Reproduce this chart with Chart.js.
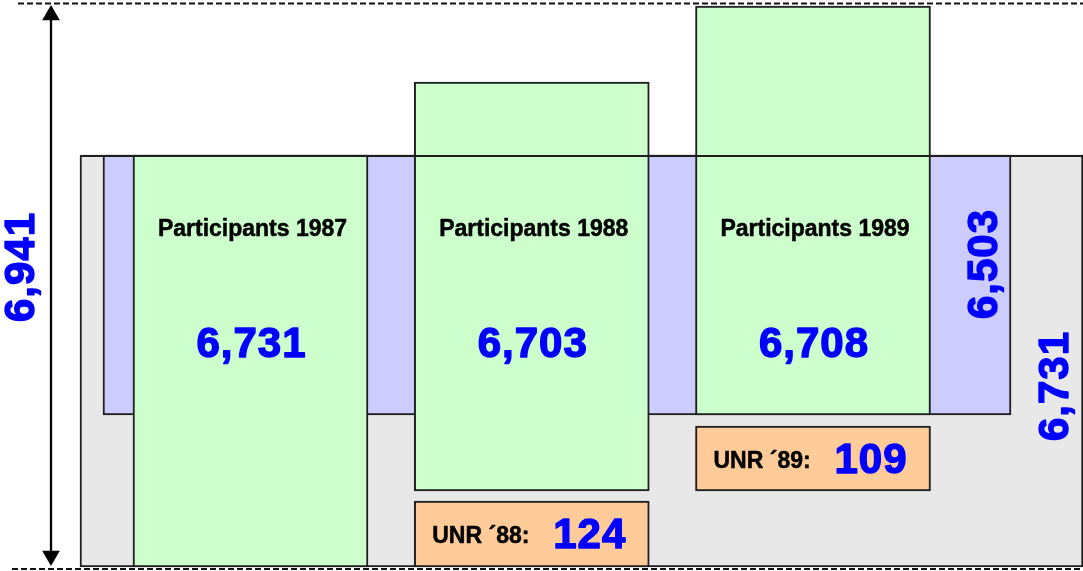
<!DOCTYPE html>
<html>
<head>
<meta charset="utf-8">
<script src="https://cdn.jsdelivr.net/npm/chart.js@4"></script>
<style>
html, body { margin: 0; padding: 0; background: #ffffff; }
#wrap { width: 1083px; height: 571px; position: relative; }
</style>
</head>
<body>
<div id="wrap"><canvas id="c"></canvas></div>
<script>
// ---------------- data ----------------
const years = ['1987', '1988', '1989'];
const participants = [6731, 6703, 6708];
const unrLabels = ['UNR \u00B488:', 'UNR \u00B489:'];
const unrValues = [124, 109];
const unrColumn = [1, 2];          // which year column each UNR box sits under
const totalLabel = 6941;           // double arrow on the left
const bandLabel = 6503;            // blue band
const baseLabel = 6731;            // grey base box

// ---------------- layout (diagram units) ----------------
const W = 1083, H = 571;
const col = { first: 250.5, step: 281.25, width: 235 };
const colCenter = i => col.first + col.step * i;
const greenTop = [155, 82, 6];
const greenBottom = [567, 491, 415];
const unrTop = [501, 426];
const unrBottom = [567, 491];
const greyBox = { left: 80, right: 1083, top: 155, bottom: 567 };
const blueBox = { left: 103, right: 1011, top: 155, bottom: 415 };
const baseRule = { y: 156, from: 80, to: 1083 };
const arrow = { x: 51, top: 15.2, bottom: 555.8 };
const dashTop = { y: 3.5, from: 18, to: 1083 };
const dashBottom = { y: 569, from: 12, to: 1083 };
const text = {
  yearLabelY: 236, valueY: 357,
  unrLabelDx: 18, unrLabelDy: 42, unrValueDx: 139, unrValueDy: 47,
  total: { x: 34, y: 267 }, band: { x: 997, y: 264 }, base: { x: 1068, y: 386 }
};

const BORDER = '#1e1e1e';
const BLUE_TEXT = '#0000ff';
const FONT = '"Liberation Sans", Arial, Helvetica, sans-serif';
const fmt = v => String(v).replace(/\B(?=(\d{3})+(?!\d))/g, ',');

const boxBar = (box, color, order) => ({
  type: 'bar',
  data: [{ x: (box.left + box.right) / 2, y: [box.top, box.bottom] }],
  barThickness: box.right - box.left,
  grouped: false,
  backgroundColor: color,
  borderColor: BORDER,
  borderWidth: 2,
  borderSkipped: false,
  order
});

const hLine = (seg, opts, order) => Object.assign({
  type: 'line',
  data: [{ x: seg.from, y: seg.y }, { x: seg.to, y: seg.y }],
  pointRadius: 0,
  fill: false,
  clip: false,
  order
}, opts);

const datasets = [
  boxBar(greyBox, '#e8e8e8', 10),
  boxBar(blueBox, '#ccccff', 9),
  {
    type: 'bar',
    label: 'Participants',
    data: years.map((y, i) => ({ x: colCenter(i), y: [greenTop[i], greenBottom[i]] })),
    barThickness: col.width,
    grouped: false,
    backgroundColor: '#ccffcc',
    borderColor: BORDER,
    borderWidth: 2,
    borderSkipped: false,
    order: 8
  },
  {
    type: 'bar',
    label: 'UNR',
    data: unrValues.map((v, i) => ({ x: colCenter(unrColumn[i]), y: [unrTop[i], unrBottom[i]] })),
    barThickness: col.width,
    grouped: false,
    backgroundColor: '#ffcc99',
    borderColor: BORDER,
    borderWidth: 2,
    borderSkipped: false,
    order: 7
  },
  hLine(baseRule, { borderColor: BORDER, borderWidth: 2 }, 4),
  hLine(dashTop, { borderColor: '#111', borderWidth: 1.8, borderDash: [6, 3] }, 3),
  hLine(dashBottom, { borderColor: '#111', borderWidth: 1.8, borderDash: [6, 3] }, 3),
  {
    type: 'line',
    data: [{ x: arrow.x, y: arrow.top }, { x: arrow.x, y: arrow.bottom }],
    borderColor: '#000',
    borderWidth: 2.3,
    pointStyle: 'triangle',
    pointRadius: 10.2,
    pointRotation: [0, 180],
    pointBackgroundColor: '#000',
    pointBorderColor: '#000',
    pointBorderWidth: 0,
    fill: false,
    clip: false,
    order: 2
  }
];

function heavyText(ctx, str, x, y, stroke) {
  ctx.fillText(str, x, y);
  if (stroke > 0) {
    ctx.lineWidth = stroke;
    ctx.strokeStyle = ctx.fillStyle;
    ctx.lineJoin = 'round';
    ctx.strokeText(str, x, y);
  }
}

const labelPlugin = {
  id: 'labels',
  afterDraw(chart) {
    const ctx = chart.ctx;
    const xs = chart.scales.x, ys = chart.scales.y;
    ctx.save();
    ctx.textBaseline = 'alphabetic';
    ctx.textAlign = 'center';
    // year labels and values
    years.forEach((yr, i) => {
      const cx = xs.getPixelForValue(colCenter(i));
      ctx.fillStyle = '#000';
      ctx.font = 'bold 23px ' + FONT;
      ctx.letterSpacing = '0px';
      heavyText(ctx, 'Participants ' + yr, cx + 2, ys.getPixelForValue(text.yearLabelY), 0.5);
      ctx.fillStyle = BLUE_TEXT;
      ctx.font = 'bold 42px ' + FONT;
      ctx.letterSpacing = '1px';
      heavyText(ctx, fmt(participants[i]), cx + 1, ys.getPixelForValue(text.valueY), 1.4);
    });
    // UNR boxes
    ctx.textAlign = 'left';
    unrValues.forEach((v, i) => {
      const left = xs.getPixelForValue(colCenter(unrColumn[i]) - col.width / 2);
      const top = ys.getPixelForValue(unrTop[i]);
      ctx.fillStyle = '#000';
      ctx.font = 'bold 23px ' + FONT;
      ctx.letterSpacing = '0px';
      heavyText(ctx, unrLabels[i], left + text.unrLabelDx, top + text.unrLabelDy, 0.5);
      ctx.fillStyle = BLUE_TEXT;
      ctx.font = 'bold 42px ' + FONT;
      ctx.letterSpacing = '1px';
      heavyText(ctx, fmt(v), left + text.unrValueDx, top + text.unrValueDy, 1.4);
    });
    // vertical labels
    ctx.textAlign = 'center';
    const vert = (val, pos) => {
      ctx.save();
      ctx.translate(xs.getPixelForValue(pos.x), ys.getPixelForValue(pos.y));
      ctx.rotate(-Math.PI / 2);
      ctx.fillStyle = BLUE_TEXT;
      ctx.font = 'bold 42px ' + FONT;
      ctx.letterSpacing = '1px';
      heavyText(ctx, fmt(val), 0, 0, 1.4);
      ctx.restore();
    };
    vert(totalLabel, text.total);
    vert(bandLabel, text.band);
    vert(baseLabel, text.base);
    ctx.restore();
  }
};

new Chart(document.getElementById('c'), {
  type: 'bar',
  data: { datasets },
  options: {
    responsive: true,
    maintainAspectRatio: false,
    animation: false,
    layout: { padding: 0, autoPadding: false },
    plugins: { legend: { display: false }, tooltip: { enabled: false } },
    scales: {
      x: { type: 'linear', min: 0, max: W, offset: false, display: false },
      y: { type: 'linear', min: 0, max: H, reverse: true, display: false }
    }
  },
  plugins: [labelPlugin]
});
</script>
</body>
</html>
